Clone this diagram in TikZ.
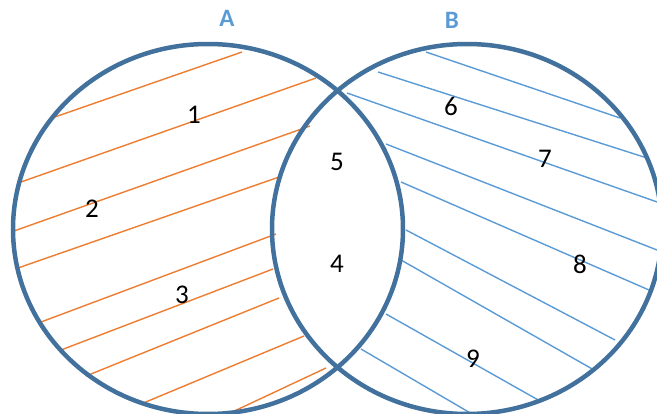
\documentclass[tikz,border=0pt]{standalone}
\usepackage{fontspec}
\setmainfont{Carlito}
\definecolor{ringblue}{HTML}{41719C}
\definecolor{hatchorange}{HTML}{ED7D31}
\definecolor{hatchblue}{HTML}{5B9BD5}
\tikzset{
  ring/.style={draw=ringblue, line width=4.5pt},
  hatchA/.style={draw=hatchorange, line width=1.4pt},
  hatchB/.style={draw=hatchblue, line width=1.4pt},
  region/.style={font=\fontsize{27}{30}\selectfont},
  setname/.style={text=hatchblue, font=\fontsize{25}{30}\selectfont\bfseries}
}
\begin{document}
\begin{tikzpicture}[x=1pt,y=-1pt]
\useasboundingbox (0,0) rectangle (657,414);
\clip (0,0) rectangle (657,414);

% hatching of A only
\draw[hatchA] (52,118)--(242,52);
\draw[hatchA] (21,182)--(316,78);
\draw[hatchA] (14,231)--(310,126);
\draw[hatchA] (18,268)--(282,176);
\draw[hatchA] (41,322)--(276,234);
\draw[hatchA] (61,350)--(273,269);
\draw[hatchA] (86,376)--(279,298);
\draw[hatchA] (141,404)--(304,336);
\draw[hatchA] (228,414)--(326,368);

% hatching of B only
\draw[hatchB] (426,52)--(620,118);
\draw[hatchB] (378,72)--(647,158);
\draw[hatchB] (347,93)--(660,203);
\draw[hatchB] (386,144)--(657,250);
\draw[hatchB] (401,182)--(649,290);
\draw[hatchB] (406,230)--(615,340);
\draw[hatchB] (401,260)--(594,370);
\draw[hatchB] (386,314)--(540,401);
\draw[hatchB] (361,349)--(472,414);

% the two sets
\draw[ring] (208,229) ellipse [x radius=195pt, y radius=185pt];
\draw[ring] (467,229) ellipse [x radius=195pt, y radius=185pt];

\node[setname] (nameA) at (227,18) {A};
\node[setname] (nameB) at (452,20) {B};

\node[region] (r1) at (194,115) {1};
\node[region] (r2) at (92,209) {2};
\node[region] (r3) at (182,295) {3};
\node[region] (r5) at (337,162) {5};
\node[region] (r4) at (337,264) {4};
\node[region] (r6) at (451,106) {6};
\node[region] (r7) at (545,159) {7};
\node[region] (r8) at (580,264) {8};
\node[region] (r9) at (473,359) {9};
\end{tikzpicture}
\end{document}
